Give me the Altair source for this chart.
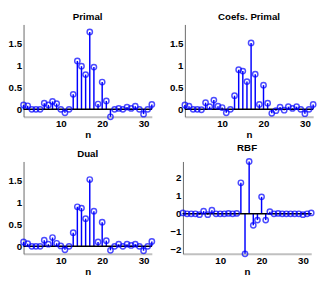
import altair as alt
import pandas as pd

n = list(range(1, 33))
primal = [0.1, 0.08, 0, 0, 0, 0.14, 0.1, 0.18, 0.13, 0, -0.08, 0, 0.34, 1.1, 0.98, 0.79,
          1.76, 0.96, 0.12, 0.62, 0.19, -0.17, 0, 0.02, 0, 0.05, 0.02, 0.07, 0, -0.11, 0, 0.11]
coefs_primal = [0.1, 0.07, 0, 0, -0.01, 0.15, 0.06, 0.21, 0.07, 0.04, -0.08, 0, 0.31, 0.9, 0.87, 0.63,
                1.51, 0.8, 0.11, 0.55, 0.14, -0.09, -0.03, 0.05, -0.02, 0.06, 0.02, 0.06, 0, -0.1, 0, 0.11]
dual = [0.1, 0.06, 0, 0, 0, 0.14, 0.05, 0.2, 0.07, 0.01, -0.08, 0, 0.31, 0.9, 0.87, 0.63,
        1.52, 0.8, 0.1, 0.55, 0.13, -0.09, 0, 0.05, 0, 0.05, 0.02, 0.05, 0, -0.1, 0, 0.11]
rbf = [0.05, 0, 0, 0, -0.05, 0.15, -0.05, 0.2, 0, 0, 0, 0.02, 0, 0.02, 1.72, -2.22,
       2.9, -0.64, -0.35, 0.94, -0.35, 0.12, 0, 0.02, 0, 0, 0, 0, 0, -0.05, 0, 0.05]

titles = ["Primal", "Coefs. Primal", "Dual", "RBF"]
ydom_top = [-0.17, 1.93]
ydom_rbf = [-2.22, 2.9]
yticks_top = [0, 0.5, 1, 1.5]
yticks_rbf = [-2, -1, 0, 1, 2]
xticks = [10, 20, 30]
xdom = [1, 32]

W, H = 132, 95
BLUE = "#0000ff"
FONT = "Liberation Sans"


def panel(title, vals, ydom, yticks):
    df = pd.DataFrame({"n": n, "v": vals, "z": [0] * len(n)})
    df0 = pd.DataFrame({"n": [xdom[0]], "n2": [xdom[1]], "v": [0]})
    x = alt.X("n:Q", scale=alt.Scale(domain=xdom, nice=False, zero=False),
              axis=alt.Axis(values=xticks, title="n", format="d", labelOverlap=False,
                            domainColor="#c0c0c0", domainWidth=2))
    y = alt.Y("v:Q", scale=alt.Scale(domain=ydom, nice=False, zero=False),
              axis=alt.Axis(values=yticks, title=None, format="~g", labelOverlap=False,
                            labelSeparation=0, domainColor="#666666"))
    stems = alt.Chart(df).mark_rule(color=BLUE, strokeWidth=1.5).encode(x=x, y=y, y2="z:Q")
    zero = alt.Chart(df0).mark_rule(color="black", strokeWidth=1.5).encode(x=x, x2="n2:Q", y=y)
    pts = alt.Chart(df).mark_point(shape="circle", filled=False, color=BLUE, size=30,
                                   strokeWidth=1.5).encode(x=x, y=y)
    return alt.layer(stems, zero, pts).properties(
        width=W, height=H,
        title=alt.TitleParams(title, fontSize=10, fontWeight="bold", font=FONT, offset=3))


p1 = panel(titles[0], primal, ydom_top, yticks_top)
p2 = panel(titles[1], coefs_primal, ydom_top, yticks_top)
p3 = panel(titles[2], dual, ydom_top, yticks_top)
p4 = panel(titles[3], rbf, ydom_rbf, yticks_rbf)

chart = alt.vconcat(
    alt.hconcat(p1, p2, spacing=12),
    alt.hconcat(p3, p4, spacing=12),
    spacing=4,
).properties(padding=0).configure_view(stroke=None).configure_axis(
    grid=False, ticks=False, labelFont=FONT, labelFontWeight="bold", labelFontSize=10,
    labelColor="black", titleFont=FONT, titleFontWeight="bold", titleFontSize=10,
    titleColor="black", labelPadding=2, titlePadding=1,
    labelFlush=False, labelOverlap=False,
)

chart.save("out.html", embed_options={"renderer": "svg", "actions": False})
